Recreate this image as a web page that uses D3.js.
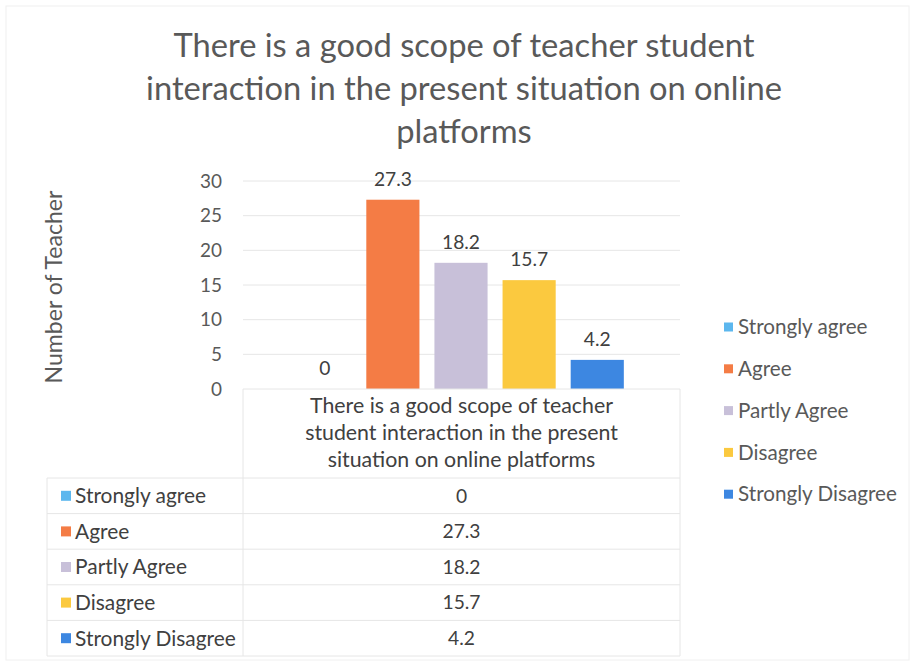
<!DOCTYPE html>
<html>
<head>
<meta charset="utf-8">
<script src="https://cdn.jsdelivr.net/npm/d3@7"></script>
<style>
  body { margin: 0; background: #fff; }
  text { font-family: Lato, "Open Sans", sans-serif; }
</style>
</head>
<body>
<svg id="chart" width="915" height="666"></svg>
<script>
// chart data
const titleLines = [
  "There is a good scope of teacher student",
  "interaction in the present situation on online",
  "platforms",
];
const categoryLines = [
  "There is a good scope of teacher",
  "student interaction in the present",
  "situation on online platforms",
];
const seriesNames = ["Strongly agree", "Agree", "Partly Agree", "Disagree", "Strongly Disagree"];
const seriesValues = [0, 27.3, 18.2, 15.7, 4.2];
const seriesColors = ["#5cb7ee", "#f47c45", "#c8c0d9", "#fbc93f", "#3d87e1"];
const yTicks = [0, 5, 10, 15, 20, 25, 30];
const yTitle = "Number of Teacher";

const svg = d3.select("#chart");
const textColor = "#595959";
const lineColor = "#e6e6e6";

// Calibri isn't around, so size the stand-in font to the widths in the picture
function fitSize(str, width) {
  const t = svg.append("text").attr("font-size", 100).text(str);
  const w = t.node().getComputedTextLength();
  t.remove();
  return (100 * width) / w;
}
const titleSize = fitSize(titleLines[1], 636);
const yTitleSize = fitSize(yTitle, 193);
const headSize = fitSize(categoryLines[1], 313);
const rowSize = fitSize("Strongly Disagree", 161);
const legendSize = fitSize("Strongly Disagree", 159);
const numberSize = fitSize("27.3", 38);
const tickSize = fitSize("30", 22);

// faint page border from the scan
svg.append("rect")
  .attr("x", 6).attr("y", 6).attr("width", 903).attr("height", 654)
  .attr("fill", "none").attr("stroke", "#f0f0f0");

// title
svg.append("g")
  .selectAll("text")
  .data(titleLines)
  .join("text")
  .attr("x", 464)
  .attr("y", (d, i) => 57 + i * 43)
  .attr("text-anchor", "middle")
  .attr("font-size", titleSize)
  .attr("fill", textColor)
  .text((d) => d);

// plot area
const plot = { left: 243, right: 680, top: 181, bottom: 389 };

const y = d3.scaleLinear().domain([0, 30]).range([plot.bottom, plot.top]);
const x = d3.scaleBand()
  .domain(seriesNames)
  .range([290, 632])
  .paddingInner(0.22)
  .paddingOuter(0.12);

// gridlines
svg.append("g")
  .selectAll("line")
  .data(yTicks.filter((t) => t > 0))
  .join("line")
  .attr("x1", plot.left).attr("x2", plot.right)
  .attr("y1", (d) => y(d)).attr("y2", (d) => y(d))
  .attr("stroke", lineColor);

// y axis labels
const yAxis = svg.append("g")
  .attr("transform", `translate(${plot.left - 21},0)`)
  .call(d3.axisLeft(y).tickValues(yTicks).tickSize(0).tickPadding(0));
yAxis.select(".domain").remove();
yAxis.selectAll("text")
  .attr("font-size", tickSize)
  .attr("fill", textColor)
  .style("font-family", 'Lato, "Open Sans", sans-serif');

// y title
svg.append("text")
  .attr("transform", "translate(62,287) rotate(-90)")
  .attr("text-anchor", "middle")
  .attr("font-size", yTitleSize)
  .attr("fill", textColor)
  .text(yTitle);

// bars
svg.append("g")
  .selectAll("rect")
  .data(seriesNames)
  .join("rect")
  .attr("x", (d) => x(d))
  .attr("width", x.bandwidth())
  .attr("y", (d, i) => y(seriesValues[i]))
  .attr("height", (d, i) => y(0) - y(seriesValues[i]))
  .attr("fill", (d, i) => seriesColors[i]);

// data labels
svg.append("g")
  .selectAll("text")
  .data(seriesNames)
  .join("text")
  .attr("x", (d) => x(d) + x.bandwidth() / 2)
  .attr("y", (d, i) => y(seriesValues[i]) - 14)
  .attr("text-anchor", "middle")
  .attr("font-size", numberSize)
  .attr("fill", "#404040")
  .text((d, i) => seriesValues[i]);

// data table
const table = { left: 47, split: plot.left, right: plot.right, headTop: plot.bottom, rowTop: 478, rowH: 35.6 };
const tg = svg.append("g");
const rowLines = d3.range(seriesNames.length + 1).map((i) => table.rowTop + i * table.rowH);
const tableBottom = rowLines[rowLines.length - 1];

// header cell outline
tg.append("line").attr("x1", table.split).attr("x2", table.right)
  .attr("y1", table.headTop).attr("y2", table.headTop).attr("stroke", lineColor);
tg.append("line").attr("x1", table.split).attr("x2", table.split)
  .attr("y1", table.headTop).attr("y2", tableBottom).attr("stroke", lineColor);
tg.append("line").attr("x1", table.right).attr("x2", table.right)
  .attr("y1", table.headTop).attr("y2", tableBottom).attr("stroke", lineColor);
tg.append("line").attr("x1", table.left).attr("x2", table.left)
  .attr("y1", rowLines[0]).attr("y2", tableBottom).attr("stroke", lineColor);
tg.selectAll(".row-line")
  .data(rowLines)
  .join("line")
  .attr("class", "row-line")
  .attr("x1", table.left).attr("x2", table.right)
  .attr("y1", (d) => d).attr("y2", (d) => d)
  .attr("stroke", lineColor);

tg.selectAll(".head")
  .data(categoryLines)
  .join("text")
  .attr("class", "head")
  .attr("x", (table.split + table.right) / 2)
  .attr("y", (d, i) => 413 + i * 27)
  .attr("text-anchor", "middle")
  .attr("font-size", headSize)
  .attr("fill", "#404040")
  .text((d) => d);

const rows = tg.selectAll(".row")
  .data(seriesNames)
  .join("g")
  .attr("class", "row")
  .attr("transform", (d, i) => `translate(0,${table.rowTop + i * table.rowH + table.rowH / 2})`);
rows.append("rect")
  .attr("x", 61).attr("y", -5).attr("width", 10).attr("height", 10)
  .attr("fill", (d, i) => seriesColors[i]);
rows.append("text")
  .attr("x", 75).attr("dy", "0.35em")
  .attr("font-size", rowSize)
  .attr("fill", "#404040")
  .text((d) => d);
rows.append("text")
  .attr("x", (table.split + table.right) / 2).attr("dy", "0.35em")
  .attr("text-anchor", "middle")
  .attr("font-size", numberSize)
  .attr("fill", "#404040")
  .text((d, i) => seriesValues[i]);

// legend
const legend = svg.append("g")
  .selectAll("g")
  .data(seriesNames)
  .join("g")
  .attr("transform", (d, i) => `translate(724,${327 + i * 41.8})`);
legend.append("rect")
  .attr("y", -4.5).attr("width", 9).attr("height", 9)
  .attr("fill", (d, i) => seriesColors[i]);
legend.append("text")
  .attr("x", 14).attr("dy", "0.35em")
  .attr("font-size", legendSize)
  .attr("fill", textColor)
  .text((d) => d);
</script>
</body>
</html>
